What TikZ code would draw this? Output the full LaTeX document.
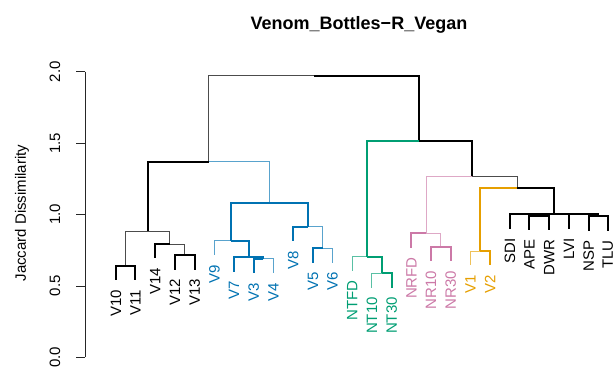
\documentclass[tikz,border=0pt]{standalone}
\usepackage{fontspec}
\setmainfont{Liberation Sans}
\definecolor{blu}{HTML}{0072B2}
\definecolor{grn}{HTML}{009E73}
\definecolor{pnk}{HTML}{CC79A7}
\definecolor{orng}{HTML}{E69F00}
\newcommand\dedge[3]{\draw[#1] (#2) -| (#3);}
\newcommand\leafat[5]{\coordinate (l#1) at (#2,#3);
  \path (l#1) ++(0,9.5) node[lab,text=#4] (t#1) {#5};}
\begin{document}
\begin{tikzpicture}[x=1pt,y=-1pt,
  thk/.style={line width=2pt},
  thn/.style={line width=0.9pt},
  kthk/.style={thk,black},
  kthn/.style={thn,black!70},
  bthk/.style={thk,blu},
  bthn/.style={thn,blu!65},
  gthk/.style={thk,grn},
  gthn/.style={thn,grn!65},
  pthk/.style={thk,pnk},
  pthn/.style={thn,pnk!65},
  othk/.style={thk,orng},
  othn/.style={thn,orng!65},
  lab/.style={rotate=90,anchor=east,inner sep=0pt,text height=10.6pt,text depth=0pt,font=\fontsize{15}{18}\selectfont},
  ticklab/.style={rotate=90,inner sep=0pt,font=\fontsize{15}{18}\selectfont},
  axisline/.style={line width=0.8pt,black!85}]
\useasboundingbox (0,0) rectangle (614,367);

% title and axis label
\node[font=\bfseries\fontsize{18}{21}\selectfont,inner sep=0pt] (title) at (359,25) {Venom\_Bottles−R\_Vegan};
\node[rotate=90,inner sep=0pt,font=\fontsize{15}{18}\selectfont] (ylab) at (22,213) {Jaccard Dissimilarity};

% axis
\coordinate (ax2) at (85,71.7);
\coordinate (ax0) at (85,357.3);
\draw[axisline] (ax2) -- (ax0);
\foreach \h/\t [count=\i] in {0/0.0,0.5/0.5,1/1.0,1.5/1.5,2/2.0}{
  \coordinate (tk\i) at (85,{357.3-142.8*\h});
  \draw[axisline] (tk\i) -- ++(-9,0);
  \path (tk\i) ++(-30,0) node[ticklab] (tl\i) {\t};
}

% leaves
\leafat{V10}{115.7}{280.0}{black}{V10}
\leafat{V11}{135.4}{280.0}{black}{V11}
\leafat{V14}{155.1}{258.3}{black}{V14}
\leafat{V12}{174.8}{269.6}{black}{V12}
\leafat{V13}{194.5}{269.6}{black}{V13}
\leafat{V9}{214.2}{255.0}{blu}{V9}
\leafat{V7}{233.9}{271.6}{blu}{V7}
\leafat{V3}{253.6}{273.0}{blu}{V3}
\leafat{V4}{273.3}{273.0}{blu}{V4}
\leafat{V8}{293.0}{241.0}{blu}{V8}
\leafat{V5}{312.7}{262.6}{blu}{V5}
\leafat{V6}{332.4}{262.6}{blu}{V6}
\leafat{NTFD}{352.1}{271.0}{grn}{NTFD}
\leafat{NT10}{371.8}{287.6}{grn}{NT10}
\leafat{NT30}{391.5}{287.6}{grn}{NT30}
\leafat{NRFD}{411.2}{247.6}{pnk}{NRFD}
\leafat{NR10}{430.9}{261.0}{pnk}{NR10}
\leafat{NR30}{450.6}{261.0}{pnk}{NR30}
\leafat{V1}{470.3}{265.3}{orng}{V1}
\leafat{V2}{490.0}{265.3}{orng}{V2}
\leafat{SDI}{509.7}{228.6}{black}{SDI}
\leafat{APE}{529.4}{229.8}{black}{APE}
\leafat{DWR}{549.1}{229.8}{black}{DWR}
\leafat{LVI}{568.8}{228.6}{black}{LVI}
\leafat{NSP}{588.5}{230.6}{black}{NSP}
\leafat{TLU}{607.6}{230.6}{black}{TLU}

% merge points
\coordinate (A) at (125.55,265.7);
\coordinate (B) at (184.65,255.3);
\coordinate (C) at (169.9,244.0);
\coordinate (D) at (147.7,231.0);
\coordinate (E) at (263.45,258.7);
\coordinate (F) at (248.7,257.3);
\coordinate (G) at (231.4,240.7);
\coordinate (H) at (322.55,248.3);
\coordinate (I) at (307.8,226.7);
\coordinate (J) at (269.6,203.3);
\coordinate (K) at (208.6,161.7);
\coordinate (L) at (381.65,273.3);
\coordinate (M) at (366.9,256.7);
\coordinate (N) at (440.75,246.7);
\coordinate (O) at (426.0,233.3);
\coordinate (P) at (480.15,251.0);
\coordinate (Q) at (539.25,215.5);
\coordinate (R) at (524.5,214.3);
\coordinate (S) at (598.05,216.3);
\coordinate (T) at (583.4,214.3);
\coordinate (U) at (554.0,213.5);
\coordinate (V) at (517.1,187.7);
\coordinate (W) at (471.6,176.0);
\coordinate (X) at (419.2,140.7);
\coordinate (root) at (313.9,75.7);

% edges (thin first, thick on top)
\dedge{kthn}{root}{K}
\dedge{bthn}{K}{J}
\dedge{kthn}{D}{A}
\dedge{kthn}{D}{C}
\dedge{kthn}{C}{B}
\dedge{bthn}{G}{lV9}
\dedge{bthn}{E}{lV4}
\dedge{bthn}{I}{H}
\dedge{bthn}{H}{lV6}
\dedge{gthn}{M}{lNTFD}
\dedge{gthn}{L}{lNT10}
\dedge{pthn}{W}{O}
\dedge{kthn}{W}{V}
\dedge{pthn}{O}{N}
\dedge{othn}{P}{lV1}

\dedge{kthk}{root}{X}
\dedge{kthk}{K}{D}
\dedge{kthk}{A}{lV10}
\dedge{kthk}{A}{lV11}
\dedge{kthk}{C}{lV14}
\dedge{kthk}{B}{lV12}
\dedge{kthk}{B}{lV13}
\dedge{bthk}{J}{G}
\dedge{bthk}{J}{I}
\dedge{bthk}{G}{F}
\dedge{bthk}{F}{lV7}
\dedge{bthk}{F}{E}
\dedge{bthk}{E}{lV3}
\dedge{bthk}{I}{lV8}
\dedge{bthk}{H}{lV5}
\dedge{gthk}{X}{M}
\dedge{kthk}{X}{W}
\dedge{gthk}{M}{L}
\dedge{gthk}{L}{lNT30}
\dedge{pthk}{O}{lNRFD}
\dedge{pthk}{N}{lNR10}
\dedge{pthk}{N}{lNR30}
\dedge{othk}{V}{P}
\dedge{kthk}{V}{U}
\dedge{othk}{P}{lV2}
\dedge{kthk}{U}{R}
\dedge{kthk}{U}{T}
\dedge{kthk}{R}{lSDI}
\dedge{kthk}{R}{Q}
\dedge{kthk}{Q}{lAPE}
\dedge{kthk}{Q}{lDWR}
\dedge{kthk}{T}{lLVI}
\dedge{kthk}{T}{S}
\dedge{kthk}{S}{lNSP}
\dedge{kthk}{S}{lTLU}
\end{tikzpicture}
\end{document}
